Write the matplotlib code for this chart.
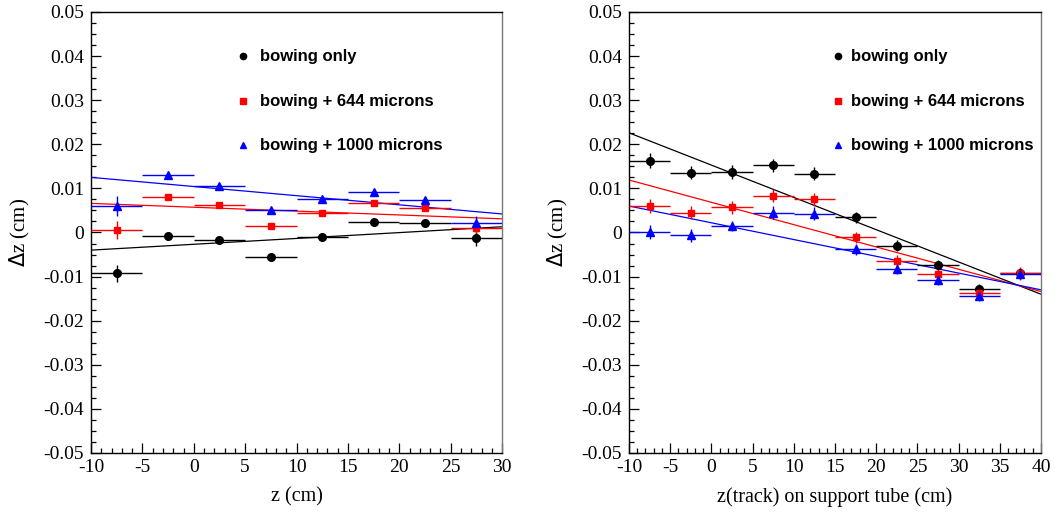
import matplotlib
matplotlib.use("Agg")
import matplotlib.pyplot as plt
from matplotlib.ticker import MultipleLocator

plt.rcParams["axes.unicode_minus"] = False

# ── Data ──────────────────────────────────────────────────────────────────────
z_left = [-7.5, -2.5, 2.5, 7.5, 12.5, 17.5, 22.5, 27.5]
z_right = [-7.5, -2.5, 2.5, 7.5, 12.5, 17.5, 22.5, 27.5, 32.5, 37.5]
bin_half = 2.5

# left panel: delta z vs z
left_bow = [-0.0093, -0.0009, -0.0017, -0.0055, -0.0011, 0.0023, 0.0022, -0.0013]
left_bow_err = [0.0020, 0.0005, 0.0005, 0.0005, 0.0005, 0.0005, 0.0005, 0.0017]
left_644 = [0.0006, 0.0080, 0.0062, 0.0014, 0.0045, 0.0066, 0.0055, 0.0010]
left_644_err = [0.0020, 0.0005, 0.0005, 0.0005, 0.0005, 0.0005, 0.0005, 0.0012]
left_1000 = [0.0060, 0.0130, 0.0105, 0.0051, 0.0075, 0.0091, 0.0074, 0.0022]
left_1000_err = [0.0022, 0.0005, 0.0005, 0.0005, 0.0005, 0.0005, 0.0005, 0.0015]

# right panel: delta z vs z(track) on support tube
right_bow = [0.0163, 0.0136, 0.0137, 0.0152, 0.0133, 0.0034, -0.0030, -0.0074, -0.0128, -0.0093]
right_bow_err = [0.0017, 0.0015, 0.0015, 0.0015, 0.0015, 0.0012, 0.0012, 0.0012, 0.0012, 0.0012]
right_644 = [0.0060, 0.0045, 0.0057, 0.0083, 0.0075, -0.0011, -0.0064, -0.0095, -0.0138, -0.0093]
right_644_err = [0.0015, 0.0015, 0.0015, 0.0015, 0.0015, 0.0012, 0.0012, 0.0012, 0.0012, 0.0015]
right_1000 = [0.0001, -0.0006, 0.0015, 0.0045, 0.0043, -0.0038, -0.0083, -0.0108, -0.0144, -0.0094]
right_1000_err = [0.0015, 0.0015, 0.0012, 0.0015, 0.0015, 0.0012, 0.0012, 0.0012, 0.0012, 0.0012]

# straight-line fits: value at the left and right edge of each axis
left_fit_x = [-10, 30]
left_fit_bow = [-0.0040, 0.0013]
left_fit_644 = [0.0066, 0.0031]
left_fit_1000 = [0.0125, 0.0042]

right_fit_x = [-10, 40]
right_fit_bow = [0.0226, -0.0140]
right_fit_644 = [0.0119, -0.0134]
right_fit_1000 = [0.0060, -0.0130]

labels = ["bowing only", "bowing + 644 microns", "bowing + 1000 microns"]
COLORS = ["black", "#ff0000", "#0000ff"]
MARKERS = ["o", "s", "^"]
MSIZE = [5.5, 5, 5.5]

SERIF = ["Liberation Serif", "DejaVu Serif"]
SANS = ["Liberation Sans", "DejaVu Sans"]
YTICKS = [-0.05, -0.04, -0.03, -0.02, -0.01, 0, 0.01, 0.02, 0.03, 0.04, 0.05]


def _style_axes(ax, xlim, xlabel):
    ax.set_xlim(*xlim)
    ax.set_ylim(-0.05, 0.05)
    ax.xaxis.set_major_locator(MultipleLocator(5))
    ax.xaxis.set_minor_locator(MultipleLocator(1))
    ax.yaxis.set_minor_locator(MultipleLocator(0.0025))
    ax.set_yticks(YTICKS)
    ax.set_yticklabels([f"{v:g}" for v in YTICKS])
    ax.tick_params(which="both", direction="in", top=False, right=False,
                   labelsize=14, width=0.9)
    ax.tick_params(which="major", length=7)
    ax.tick_params(axis="x", pad=4.5)
    ax.tick_params(axis="y", pad=5)
    ax.tick_params(which="minor", length=3.5)
    for lab in ax.get_xticklabels() + ax.get_yticklabels():
        lab.set_family(SERIF)
    for side in ["left", "bottom", "top", "right"]:
        ax.spines[side].set_linewidth(1.0)
    ax.spines["right"].set_color("#777777")
    ax.set_xlabel(xlabel, family=SERIF, fontsize=14.5, labelpad=8)
    ax.set_ylabel(r"$\Delta$z (cm)", family=SERIF, fontsize=15, labelpad=8)


def _draw_series(ax, x, series, errs, fits_x, fits):
    for y, e, fy, c, m, ms in zip(series, errs, fits, COLORS, MARKERS, MSIZE):
        ax.errorbar(x, y, xerr=bin_half, yerr=e, fmt=m, color=c, ms=ms,
                    elinewidth=1.0, capsize=0, zorder=3)
        ax.plot(fits_x, fy, color=c, lw=0.9, zorder=2)


def _legend(ax, mx, tx):
    for lab, c, m, yy in zip(labels, COLORS, MARKERS, [0.90, 0.798, 0.698]):
        ax.plot([mx], [yy], marker=m, color=c, ms=4.5, transform=ax.transAxes,
                clip_on=False, ls="none")
        ax.text(tx, yy, lab, transform=ax.transAxes, va="center", ha="left",
                family=SANS, fontweight="bold", fontsize=12)


fig = plt.figure(figsize=(10.55, 5.19), dpi=100)
ax1 = fig.add_axes([0.0863, 0.1272, 0.3896, 0.8497])
ax2 = fig.add_axes([0.5962, 0.1272, 0.3905, 0.8497])

_draw_series(ax1, z_left, [left_bow, left_644, left_1000],
             [left_bow_err, left_644_err, left_1000_err],
             left_fit_x, [left_fit_bow, left_fit_644, left_fit_1000])
_style_axes(ax1, (-10, 30), "z (cm)")
_legend(ax1, 0.37, 0.41)

_draw_series(ax2, z_right, [right_bow, right_644, right_1000],
             [right_bow_err, right_644_err, right_1000_err],
             right_fit_x, [right_fit_bow, right_fit_644, right_fit_1000])
_style_axes(ax2, (-10, 40), "z(track) on support tube (cm)")
_legend(ax2, 0.507, 0.539)

fig.savefig("out.png", dpi=100, facecolor="white")
